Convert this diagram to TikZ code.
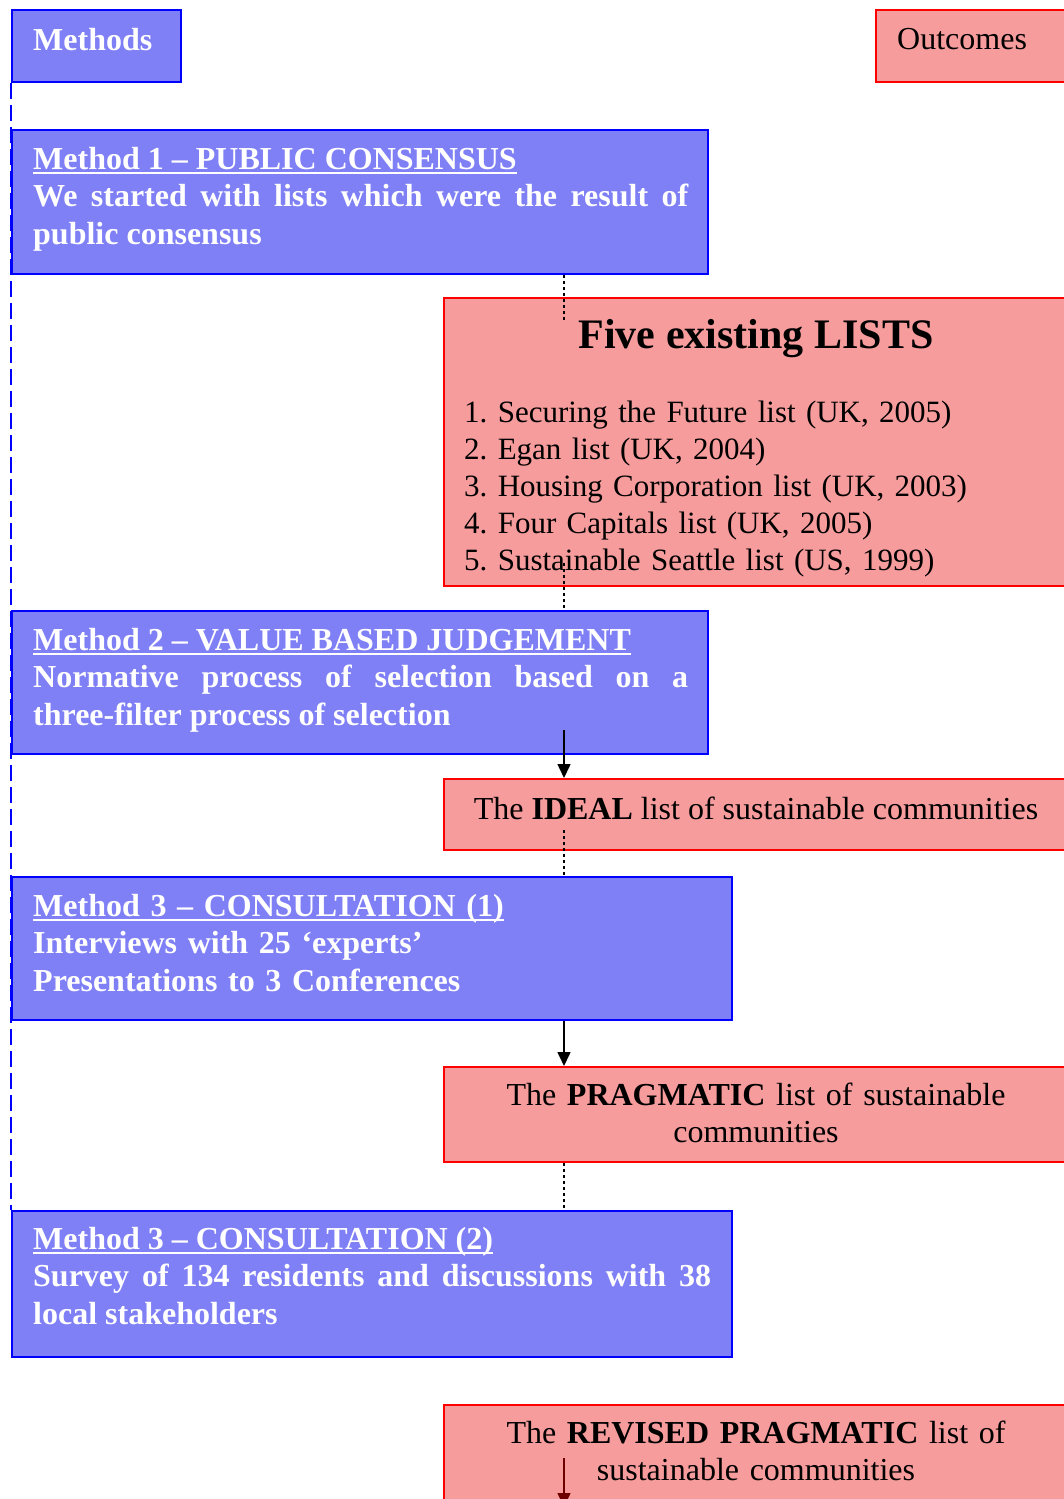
\documentclass[tikz,border=0pt]{standalone}
\usepackage{fontspec}
\setmainfont{Liberation Serif}
\usetikzlibrary{arrows.meta}
\frenchspacing

\definecolor{bfill}{RGB}{128,128,246}
\definecolor{rfill}{RGB}{246,156,156}
\definecolor{arrowred}{RGB}{110,0,0}

% underlined heading with a rule set a little below the baseline
\newcommand\ulinetext[1]{\setbox0\hbox{#1}\rlap{\rule[-5pt]{\wd0}{1.8pt}}\box0}

\tikzset{
  bluebox/.style={draw=blue, line width=2pt, fill=bfill, inner sep=0pt, anchor=north west},
  redbox/.style={draw=red, line width=2pt, fill=rfill, inner sep=0pt, anchor=north west},
  btext/.style={text=white, font=\fontsize{32}{37.5}\selectfont\bfseries, inner sep=0pt},
  rtext/.style={text=black, font=\fontsize{32}{37.5}\selectfont, inner sep=0pt},
  dotline/.style={black, line width=2.5pt, dash pattern=on 3pt off 3pt},
  flowarrow/.style={black, line width=1.5pt, -{Triangle[length=14pt, width=13pt]}},
  darkarrow/.style={arrowred, line width=1.5pt, -{Triangle[length=14pt, width=13pt]}},
  bluedash/.style={blue, line width=2pt, dash pattern=on 16pt off 6pt},
}

\begin{document}
\begin{tikzpicture}[x=1pt, y=-1pt]
\useasboundingbox (0,0) rectangle (1064,1499);
\clip (0,0) rectangle (1064,1499);

% column headers
\node[bluebox, minimum width=169pt, minimum height=72pt] (methods) at (11,9) {};
\node[redbox, minimum width=200pt, minimum height=72pt] (outcomes) at (875,9) {};
\node[btext, anchor=base west] (methodst) at (33,50) {Methods};
\node[rtext, anchor=base west] (outcomest) at (897,49) {Outcomes};

% boxes
\node[bluebox, minimum width=696pt, minimum height=144pt] (m1) at (11,129) {};
\node[redbox, minimum width=625pt, minimum height=288pt] (lists) at (443,297) {};
\node[bluebox, minimum width=696pt, minimum height=143pt] (m2) at (11,610) {};
\node[redbox, minimum width=625pt, minimum height=71pt] (ideal) at (443,778) {};
\node[bluebox, minimum width=720pt, minimum height=143pt] (m31) at (11,876) {};
\node[redbox, minimum width=625pt, minimum height=95pt] (prag) at (443,1066) {};
\node[bluebox, minimum width=720pt, minimum height=146pt] (m32) at (11,1210) {};
\node[redbox, minimum width=625pt, minimum height=120pt] (revised) at (443,1404) {};

% methods column text
\node[btext, text width=655pt, align=justify, anchor=base west] (m1t) at (33,169)
  {\ulinetext{Method 1 – PUBLIC CONSENSUS}\\
   We started with lists which were the result of\linebreak public consensus};
\node[btext, text width=655pt, align=justify, anchor=base west] (m2t) at (33,650)
  {\ulinetext{Method 2 – VALUE BASED JUDGEMENT}\\
   Normative process of selection based on a\linebreak three-filter process of selection};
\node[btext, text width=678pt, align=left, anchor=base west] (m31t) at (33,916)
  {\ulinetext{Method 3 – CONSULTATION (1)}\\
   Interviews with 25 ‘experts’\\
   Presentations to 3 Conferences};
\node[btext, text width=678pt, align=justify, anchor=base west] (m32t) at (33,1249)
  {\ulinetext{Method 3 – CONSULTATION (2)}\\
   Survey of 134 residents and discussions with 38\linebreak local stakeholders};

% outcomes column text
\node[rtext, font=\fontsize{42}{48}\selectfont\bfseries, anchor=base] (liststitle) at (756,348)
  {Five existing LISTS};
\node[rtext, font=\fontsize{31}{37}\selectfont, text width=590pt, align=left, anchor=base west] (listst) at (464,422)
  {1. Securing the Future list (UK, 2005)\\
   2. Egan list (UK, 2004)\\
   3. Housing Corporation list (UK, 2003)\\
   4. Four Capitals list (UK, 2005)\\
   5. Sustainable Seattle list (US, 1999)};
\node[rtext, anchor=base] (idealt) at (756,819)
  {The \textbf{IDEAL} list of sustainable communities};
\node[rtext, text width=560pt, align=center, anchor=base] (pragt) at (756,1105)
  {The \textbf{PRAGMATIC} list of sustainable\\ communities};
\node[rtext, text width=560pt, align=center, anchor=base] (revisedt) at (756,1443)
  {The \textbf{REVISED PRAGMATIC} list of\\ sustainable communities};

% connectors
\draw[bluedash] (methods.south west) -- (m32.north west);

\coordinate (d1) at (564,320);
\coordinate (d2) at (564,563);
\coordinate (a1) at (564,730);
\coordinate (d3) at (564,830);
\coordinate (a4) at (564,1458);
\coordinate (a4e) at (564,1507);

\draw[dotline] (m1.south -| d1) -- (d1);
\draw[dotline] (d2) -- (d2 |- m2.north);
\draw[flowarrow] (a1) -- (a1 |- ideal.north);
\draw[dotline] (d3) -- (d3 |- m31.north);
\draw[flowarrow] (m31.south -| d3) -- (prag.north -| d3);
\draw[dotline] (prag.south -| d3) -- (m32.north -| d3);
\draw[darkarrow] (a4) -- (a4e);
\end{tikzpicture}
\end{document}
